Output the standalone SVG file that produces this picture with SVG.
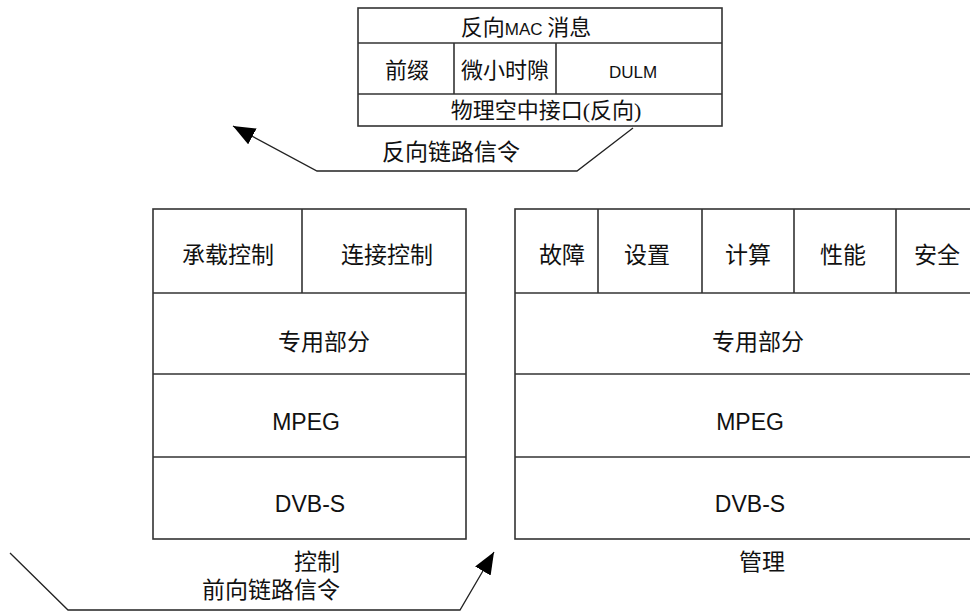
<svg xmlns="http://www.w3.org/2000/svg" width="970" height="612" viewBox="0 0 970 612">
<defs>
<style>
.box{fill:#fff;stroke:#333;stroke-width:1.6}
.ln{fill:none;stroke:#333;stroke-width:1.6}
.cn{fill:none;stroke:#222;stroke-width:1.3}
.cjk{font-family:"Liberation Serif","Noto Sans CJK SC",serif;font-size:23px;fill:#111;text-anchor:middle}
.lat{font-family:"Liberation Sans",Arial,sans-serif;font-size:23px;fill:#111;text-anchor:middle}
.sm{font-family:"Liberation Sans",Arial,sans-serif;font-size:17px;fill:#111}
.cjks{font-family:"Liberation Serif","Noto Sans CJK SC",serif;font-size:22px;fill:#111;text-anchor:middle}
</style>
<marker id="ah" markerUnits="userSpaceOnUse" markerWidth="24" markerHeight="20" refX="22" refY="9" orient="auto">
<path d="M0,0 L22,9 L0,18 z" fill="#000"/>
</marker>
</defs>
<rect width="970" height="612" fill="#fff"/>

<g id="mac">
<rect class="box" x="358" y="8" width="364" height="118"/>
<line class="ln" x1="358" y1="43" x2="722" y2="43"/>
<line class="ln" x1="358" y1="94" x2="722" y2="94"/>
<line class="ln" x1="454" y1="43" x2="454" y2="94"/>
<line class="ln" x1="556" y1="43" x2="556" y2="94"/>
<text class="cjks" x="526" y="35">反向<tspan class="sm">MAC </tspan>消息</text>
<text class="cjks" x="407" y="78">前缀</text>
<text class="cjks" x="505" y="78">微小时隙</text>
<text class="sm" x="633" y="78" text-anchor="middle">DULM</text>
<text class="cjks" x="546" y="118">物理空中接口(反向)</text>
</g>

<g id="control">
<rect class="box" x="153" y="209" width="313" height="330"/>
<line class="ln" x1="153" y1="293" x2="466" y2="293"/>
<line class="ln" x1="153" y1="374" x2="466" y2="374"/>
<line class="ln" x1="153" y1="457" x2="466" y2="457"/>
<line class="ln" x1="302" y1="209" x2="302" y2="293"/>
<text class="cjk" x="228" y="263">承载控制</text>
<text class="cjk" x="387" y="263">连接控制</text>
<text class="cjk" x="324" y="350">专用部分</text>
<text class="lat" x="306" y="430">MPEG</text>
<text class="lat" x="310" y="512">DVB-S</text>
<text class="cjk" x="317" y="570">控制</text>
</g>

<g id="management">
<rect class="box" x="515" y="209" width="470" height="330"/>
<line class="ln" x1="515" y1="293" x2="970" y2="293"/>
<line class="ln" x1="515" y1="374" x2="970" y2="374"/>
<line class="ln" x1="515" y1="457" x2="970" y2="457"/>
<line class="ln" x1="598" y1="209" x2="598" y2="293"/>
<line class="ln" x1="702" y1="209" x2="702" y2="293"/>
<line class="ln" x1="794" y1="209" x2="794" y2="293"/>
<line class="ln" x1="896" y1="209" x2="896" y2="293"/>
<text class="cjk" x="562" y="263">故障</text>
<text class="cjk" x="647" y="263">设置</text>
<text class="cjk" x="748" y="263">计算</text>
<text class="cjk" x="843" y="263">性能</text>
<text class="cjk" x="937" y="263">安全</text>
<text class="cjk" x="758" y="350">专用部分</text>
<text class="lat" x="750" y="430">MPEG</text>
<text class="lat" x="750" y="512">DVB-S</text>
<text class="cjk" x="762" y="570">管理</text>
</g>

<g id="connectors">
<path class="cn" d="M633,128 L577,171 L317,171 L233,126" marker-end="url(#ah)"/>
<text class="cjk" x="451" y="160">反向链路信令</text>
<path class="cn" d="M10,553 L68,610 L460,610 L494,552" marker-end="url(#ah)"/>
<text class="cjk" x="271" y="598">前向链路信令</text>
</g>
</svg>
